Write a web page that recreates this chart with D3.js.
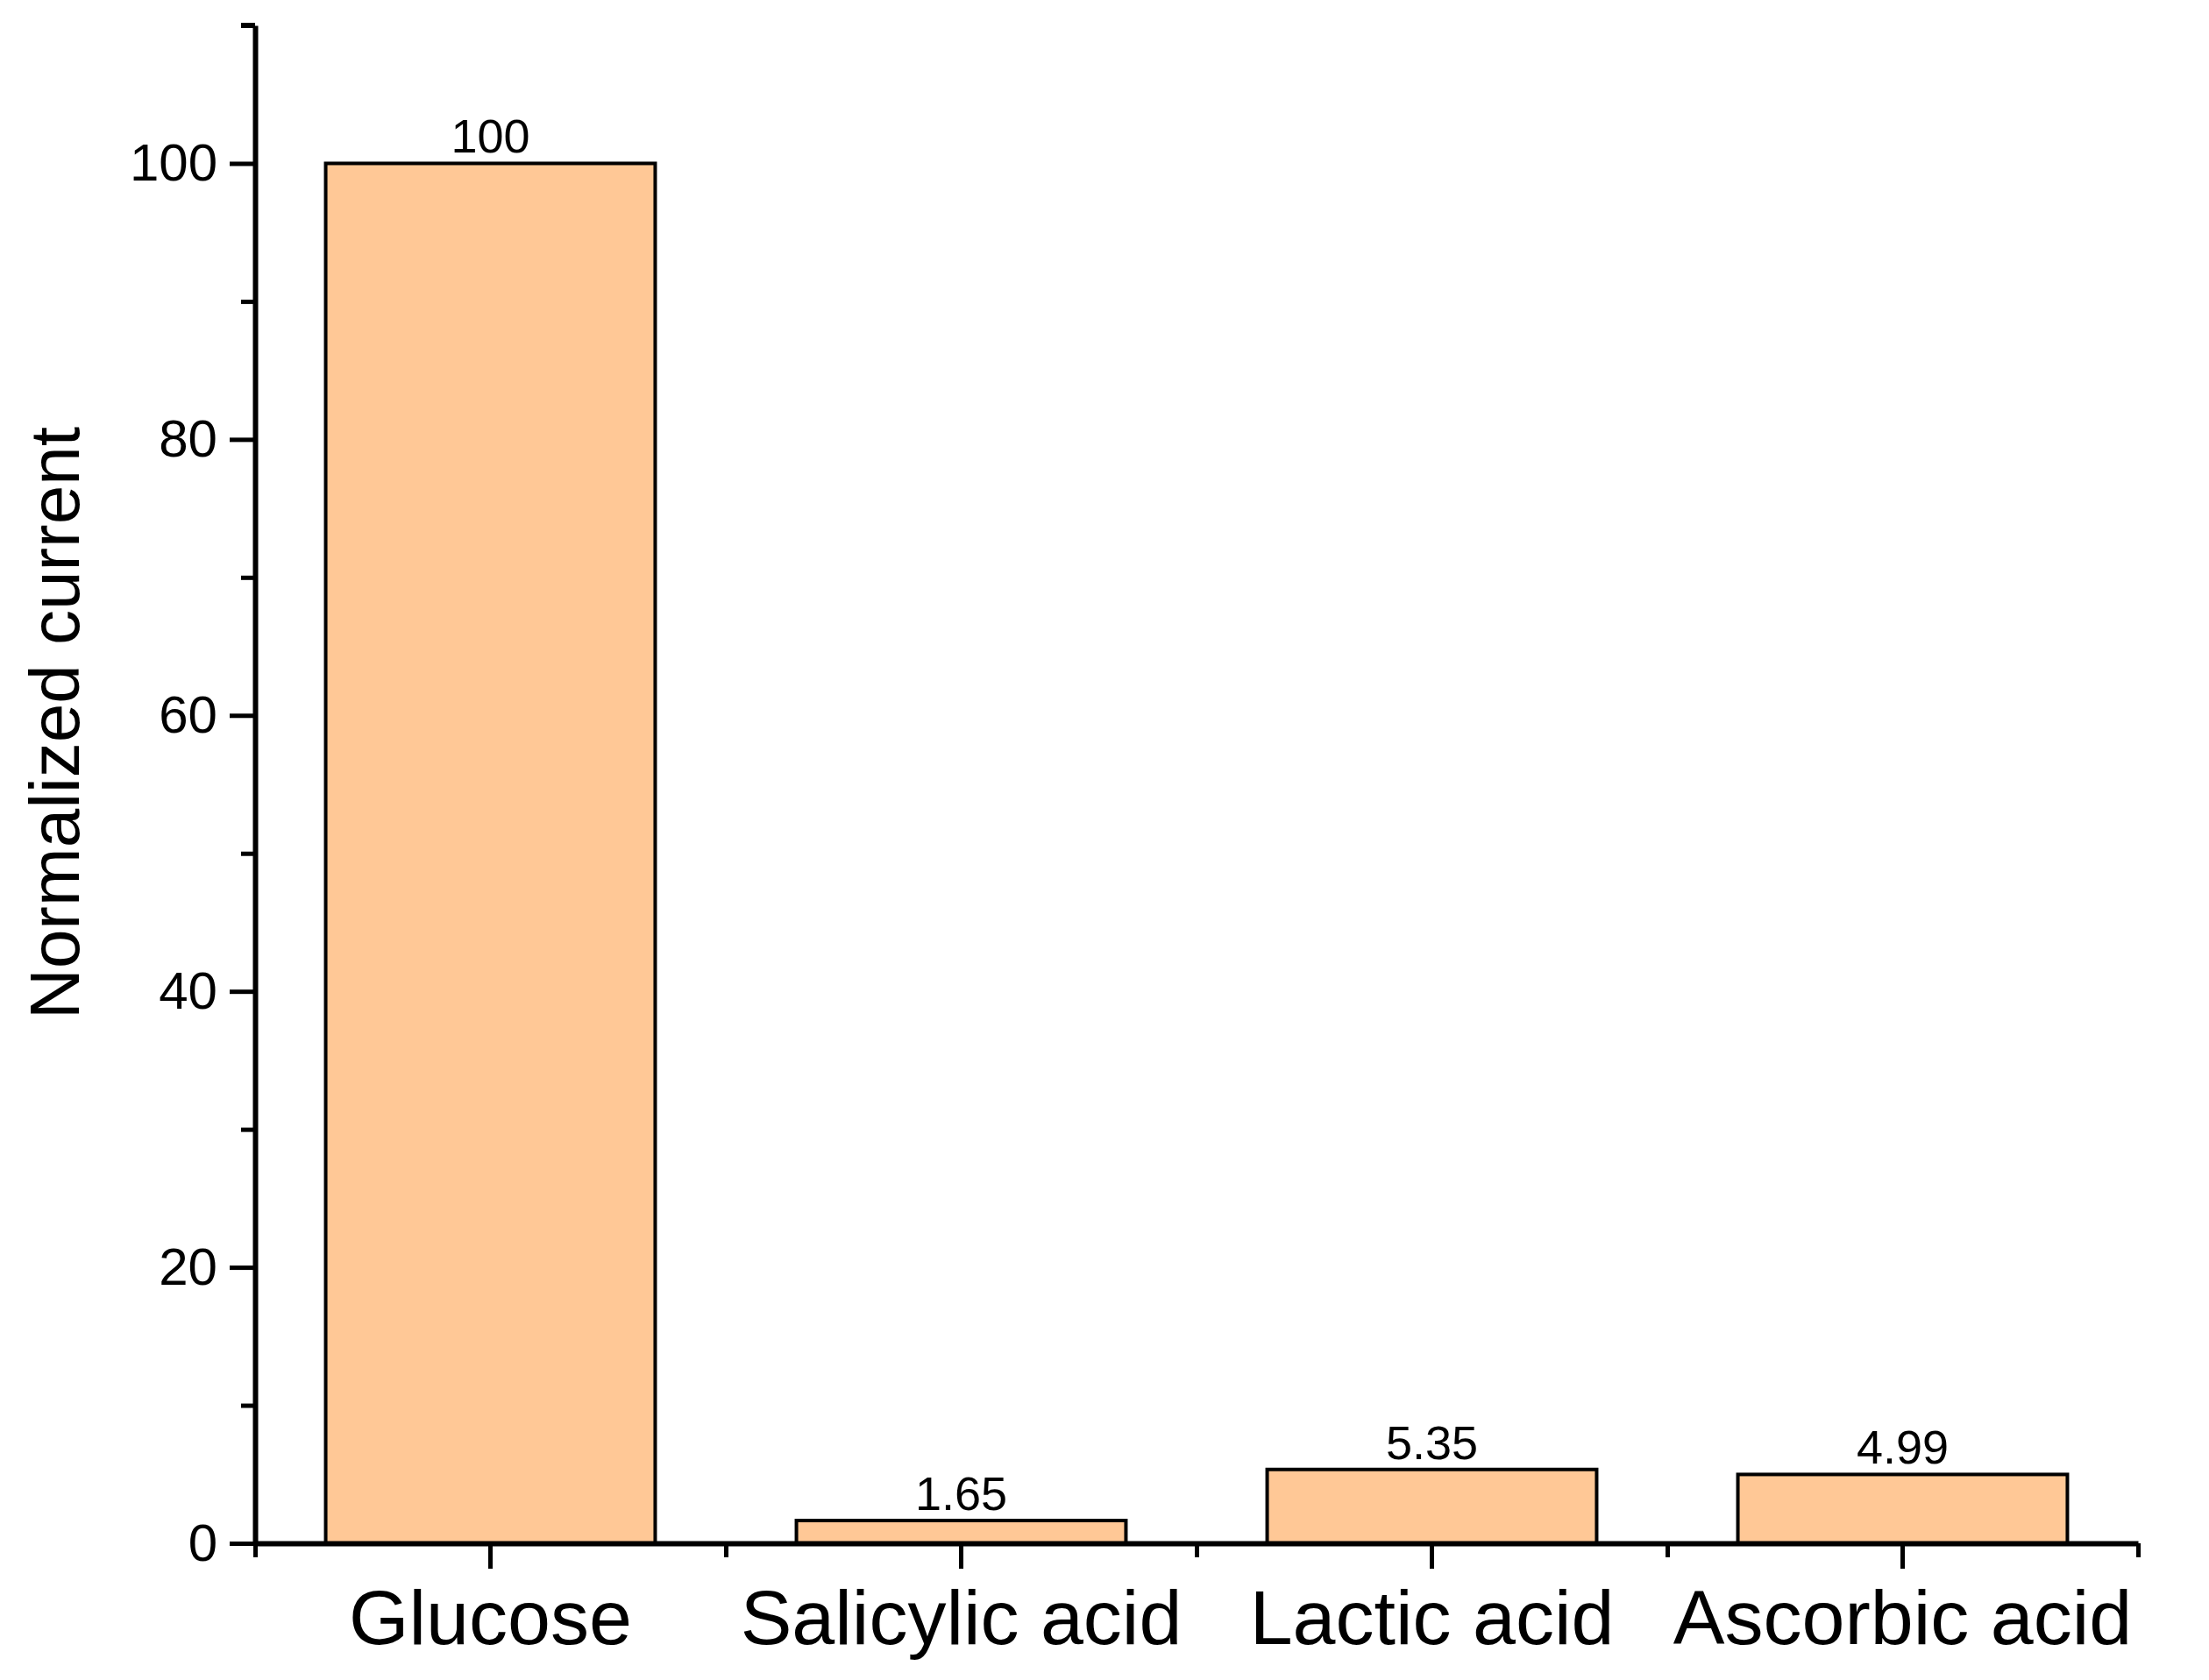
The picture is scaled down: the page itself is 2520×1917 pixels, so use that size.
<!DOCTYPE html>
<html><head><meta charset="utf-8">
<script src="https://cdnjs.cloudflare.com/ajax/libs/d3/7.8.5/d3.min.js"></script>
<style>body{margin:0;background:#fff}svg{display:block}text{font-family:"Liberation Sans",Arial,sans-serif;fill:#000}</style>
</head><body><div id="chart"></div>
<script>
'use strict';

var categories = ['Glucose', 'Salicylic acid', 'Lactic acid', 'Ascorbic acid'];
var values = [100, 1.65, 5.35, 4.99];
var valueLabels = ['100', '1.65', '5.35', '4.99'];
var yTicks = [0, 20, 40, 60, 80, 100];

var W = 2520, H = 1917;
var mLeft = 291, mRight = 2439, mTop = 29, mBottom = 1761;

var svg = d3.select('#chart').append('svg').attr('width', W).attr('height', H);

var x = d3.scaleBand().domain(categories).range([mLeft, mRight]).paddingInner(0.3).paddingOuter(0.15);
var xb = d3.scaleBand().domain(categories).range([mLeft, mRight]);
var y = d3.scaleLinear().domain([0, 110]).range([mBottom, mTop]);

// bars
svg.selectAll('rect.bar').data(values).enter().append('rect')
    .attr('x', function(d, i) { return x(categories[i]); })
    .attr('y', function(d) { return y(d); })
    .attr('width', x.bandwidth())
    .attr('height', function(d) { return y(0) - y(d); })
    .attr('fill', '#FFC896')
    .attr('stroke', '#000')
    .attr('stroke-width', 4);

// value labels
svg.selectAll('text.val').data(values).enter().append('text')
    .attr('x', function(d, i) { return x(categories[i]) + x.bandwidth() / 2; })
    .attr('y', function(d) { return y(d) - 12; })
    .attr('text-anchor', 'middle')
    .style('font-size', '54px')
    .text(function(d, i) { return valueLabels[i]; });

// y axis
var yAxis = svg.append('g').attr('transform', 'translate(' + mLeft + ',0)')
    .call(d3.axisLeft(y).tickValues(yTicks).tickSize(29).tickPadding(14).tickSizeOuter(0));
yAxis.selectAll('text').style('font-size', '60px');
svg.append('g').attr('transform', 'translate(' + mLeft + ',0)')
    .call(d3.axisLeft(y).tickValues(d3.range(10, 110, 20)).tickSize(16).tickFormat(''))
    .select('.domain').remove();
// top cap
svg.append('line').attr('x1', mLeft - 16).attr('x2', mLeft).attr('y1', mTop).attr('y2', mTop)
    .attr('stroke', '#000').attr('stroke-width', 6);

// x axis
var xAxis = svg.append('g').attr('transform', 'translate(0,' + mBottom + ')')
    .call(d3.axisBottom(xb).tickSize(29).tickPadding(24).tickSizeOuter(0));
xAxis.selectAll('text').style('font-size', '88px');
svg.append('g').attr('transform', 'translate(0,' + mBottom + ')')
    .call(d3.axisBottom(d3.scaleLinear().domain([0, 4]).range([mLeft, mRight])).tickValues([0, 1, 2, 3, 4]).tickSize(16).tickFormat(''))
    .select('.domain').remove();

svg.selectAll('.domain').attr('stroke-width', 6);
svg.selectAll('.tick line').attr('stroke-width', 5);

// y title
svg.append('text')
    .attr('transform', 'translate(90,' + ((mTop + mBottom) / 2 - 70) + ') rotate(-90)')
    .attr('text-anchor', 'middle')
    .style('font-size', '80px')
    .text('Normalized current');
</script>
</body></html>
